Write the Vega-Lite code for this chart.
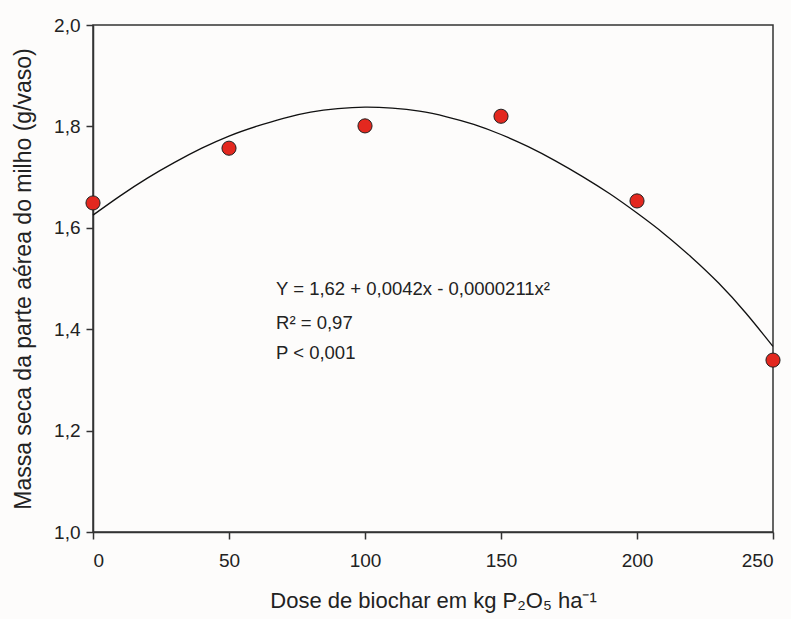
{
  "$schema": "https://vega.github.io/schema/vega-lite/v6.json",
  "width": 680,
  "height": 507,
  "autosize": "none",
  "padding": {"left": 93, "top": 25, "right": 18, "bottom": 87},
  "background": "#fdfcfb",
  "config": {
    "view": {"stroke": "#333333", "strokeWidth": 1.5},
    "font": "Liberation Sans"
  },
  "datasets": {
    "pts": [
      {"dose": 0, "massa": 1.649},
      {"dose": 50, "massa": 1.757},
      {"dose": 100, "massa": 1.801},
      {"dose": 150, "massa": 1.820},
      {"dose": 200, "massa": 1.653},
      {"dose": 250, "massa": 1.339}
    ],
    "curve": [
      {"dose": 0, "fit": 1.625},
      {"dose": 10, "fit": 1.663},
      {"dose": 20, "fit": 1.698},
      {"dose": 30, "fit": 1.729},
      {"dose": 40, "fit": 1.757},
      {"dose": 50, "fit": 1.781},
      {"dose": 60, "fit": 1.800},
      {"dose": 70, "fit": 1.816},
      {"dose": 80, "fit": 1.828},
      {"dose": 90, "fit": 1.835},
      {"dose": 100, "fit": 1.838},
      {"dose": 110, "fit": 1.836},
      {"dose": 120, "fit": 1.830},
      {"dose": 130, "fit": 1.819},
      {"dose": 140, "fit": 1.804},
      {"dose": 150, "fit": 1.784},
      {"dose": 160, "fit": 1.760},
      {"dose": 170, "fit": 1.732},
      {"dose": 180, "fit": 1.701},
      {"dose": 190, "fit": 1.667},
      {"dose": 200, "fit": 1.629},
      {"dose": 210, "fit": 1.588},
      {"dose": 220, "fit": 1.542},
      {"dose": 230, "fit": 1.491},
      {"dose": 240, "fit": 1.432},
      {"dose": 250, "fit": 1.366}
    ],
    "one": [{}]
  },
  "layer": [
    {
      "data": {"name": "curve"},
      "mark": {"type": "line", "color": "#111111", "strokeWidth": 1.3, "interpolate": "natural"},
      "encoding": {
        "x": {
          "field": "dose", "type": "quantitative",
          "scale": {"domain": [0, 250], "nice": false},
          "axis": {
            "values": [0, 50, 100, 150, 200, 250],
            "domainColor": "#333333", "domainWidth": 1.5,
            "tickColor": "#333333", "tickWidth": 1.5, "tickSize": 7,
            "grid": false,
            "labelFont": "Liberation Sans", "labelFontSize": 19, "labelColor": "#222222", "labelPadding": 12,
            "title": "Dose de biochar em kg P₂O₅ ha⁻¹",
            "titleFont": "Liberation Sans", "titleFontSize": 22, "titleFontWeight": "normal", "titleColor": "#222222", "titlePadding": 20
          }
        },
        "y": {
          "field": "fit", "type": "quantitative",
          "scale": {"domain": [1.0, 2.0], "nice": false, "zero": false},
          "axis": {
            "values": [1.0, 1.2, 1.4, 1.6, 1.8, 2.0],
            "labelExpr": "replace(format(datum.value, '.1f'), '.', ',')",
            "domainColor": "#333333", "domainWidth": 1.5,
            "tickColor": "#333333", "tickWidth": 1.5, "tickSize": 7,
            "grid": false,
            "labelFont": "Liberation Sans", "labelFontSize": 19, "labelColor": "#222222", "labelPadding": 6,
            "title": "Massa seca da parte aérea do milho (g/vaso)",
            "titleFont": "Liberation Sans", "titleFontSize": 23, "titleFontWeight": "normal", "titleColor": "#222222", "titlePadding": 18
          }
        }
      }
    },
    {
      "data": {"name": "pts"},
      "mark": {"type": "point", "shape": "circle", "filled": true, "fill": "#e3281f", "stroke": "#222222", "strokeWidth": 1, "size": 200, "opacity": 1},
      "encoding": {
        "x": {"field": "dose", "type": "quantitative"},
        "y": {"field": "massa", "type": "quantitative"}
      }
    },
    {
      "data": {"name": "one"},
      "mark": {"type": "text", "align": "left", "baseline": "middle", "font": "Liberation Sans", "fontSize": 18.5, "color": "#222222", "text": "Y = 1,62 + 0,0042x - 0,0000211x²"},
      "encoding": {"x": {"datum": 67.3}, "y": {"datum": 1.479}}
    },
    {
      "data": {"name": "one"},
      "mark": {"type": "text", "align": "left", "baseline": "middle", "font": "Liberation Sans", "fontSize": 18.5, "color": "#222222", "text": "R² = 0,97"},
      "encoding": {"x": {"datum": 67.3}, "y": {"datum": 1.413}}
    },
    {
      "data": {"name": "one"},
      "mark": {"type": "text", "align": "left", "baseline": "middle", "font": "Liberation Sans", "fontSize": 18.5, "color": "#222222", "text": "P < 0,001"},
      "encoding": {"x": {"datum": 67.3}, "y": {"datum": 1.354}}
    }
  ]
}
